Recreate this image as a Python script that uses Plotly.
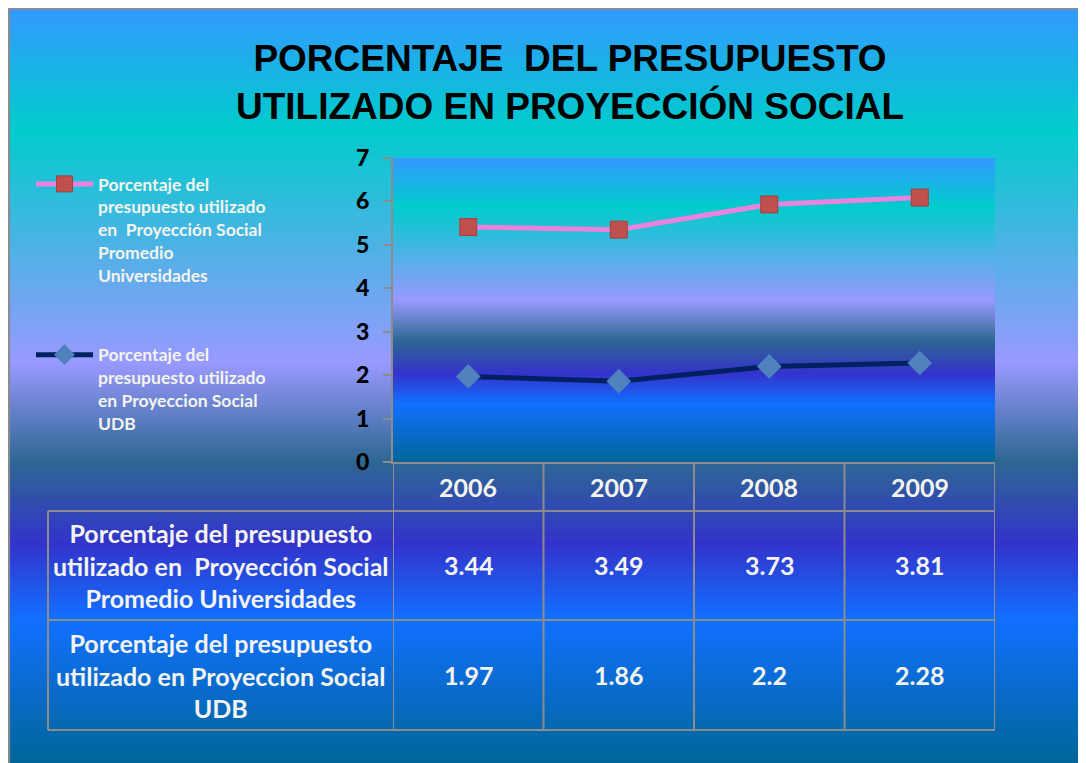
import base64
import struct
import zlib

import plotly.graph_objects as go

# data
years = ["2006", "2007", "2008", "2009"]
promedio = [3.44, 3.49, 3.73, 3.81]
udb = [1.97, 1.86, 2.2, 2.28]
promedio_legend = ["Porcentaje del", "presupuesto utilizado", "en  Proyección Social", "Promedio", "Universidades"]
udb_legend = ["Porcentaje del", "presupuesto utilizado", "en Proyeccion Social", "UDB"]
promedio_table = ["Porcentaje del presupuesto", "utilizado en  Proyección Social", "Promedio Universidades"]
udb_table = ["Porcentaje del presupuesto", "utilizado en Proyeccion Social", "UDB"]
title_text = "PORCENTAJE  DEL PRESUPUESTO<br>UTILIZADO EN PROYECCIÓN SOCIAL"

W, H = 1086, 763
OFF = 8  # page body margin, positions below are given in window pixels

# Excel "Ocean" preset gradient
OCEAN = [(0.0, "#3399FF"), (0.16, "#00CCCC"), (0.47, "#9999FF"), (0.60, "#2E6792"),
         (0.71, "#3333CC"), (0.81, "#1170FF"), (1.0, "#006699")]


def hex_rgb(h):
    h = h.lstrip("#")
    return [int(h[i:i + 2], 16) for i in (0, 2, 4)]


def gradient_png(stops, height, width=4):
    rows = b""
    for r in range(height):
        t = r / (height - 1)
        for i in range(len(stops) - 1):
            if stops[i][0] <= t <= stops[i + 1][0]:
                a, b = stops[i], stops[i + 1]
                break
        f = (t - a[0]) / (b[0] - a[0]) if b[0] > a[0] else 0
        ca, cb = hex_rgb(a[1]), hex_rgb(b[1])
        pix = bytes(int(round(ca[k] + (cb[k] - ca[k]) * f)) for k in range(3))
        rows += b"\x00" + pix * width

    def chunk(tag, data):
        c = tag + data
        return struct.pack(">I", len(data)) + c + struct.pack(">I", zlib.crc32(c) & 0xffffffff)

    png = b"\x89PNG\r\n\x1a\n"
    png += chunk(b"IHDR", struct.pack(">IIBBBBB", width, height, 8, 2, 0, 0, 0))
    png += chunk(b"IDAT", zlib.compress(rows))
    png += chunk(b"IEND", b"")
    return "data:image/png;base64," + base64.b64encode(png).decode()


def px(x):
    return (x - OFF) / W


def py(y):
    return 1 - (y - OFF) / H


plot_l, plot_r, plot_t, plot_b = 393, 995, 158, 462
tab_l, tab_head, tab_mid, tab_bot = 48, 511, 620, 730
grid_col = "#8C8C8C"
text_col = "#F4F4EC"

fig = go.Figure()

# UDB first so it is the bottom of the stack
fig.add_trace(go.Scatter(
    x=years, y=udb, name="<br>".join(udb_legend),
    stackgroup="one", fill="none", mode="lines+markers",
    line=dict(color="#002060", width=5),
    marker=dict(symbol="diamond", size=19, color="#4F81BD"),
    legendgroup="b", legendrank=2,
))
fig.add_trace(go.Scatter(
    x=years, y=promedio, name="<br>".join(promedio_legend),
    stackgroup="one", fill="none", mode="lines+markers",
    line=dict(color="#E983DF", width=5),
    marker=dict(symbol="square", size=17, color="#C0504D", line=dict(color="#A5403D", width=1)),
    legendgroup="a", legendrank=1,
))

images = [
    dict(source=gradient_png(OCEAN, H - 8), xref="paper", yref="paper",
         x=px(OFF), y=py(OFF), sizex=1, sizey=(H - 8) / H,
         xanchor="left", yanchor="top", sizing="stretch", layer="below"),
    dict(source=gradient_png(OCEAN, plot_b - plot_t), xref="paper", yref="paper",
         x=px(plot_l), y=py(plot_t), sizex=(plot_r - plot_l) / W, sizey=(plot_b - plot_t) / H,
         xanchor="left", yanchor="top", sizing="stretch", layer="below"),
]

shapes = [
    # outer frame
    dict(type="line", xref="paper", yref="paper", x0=0.001, x1=0.001, y0=0, y1=py(OFF),
         line=dict(color="#8C8C8C", width=2)),
    dict(type="line", xref="paper", yref="paper", x0=0, x1=1, y0=0.999, y1=0.999,
         line=dict(color="#8C8C8C", width=2)),
]
# data table grid
for yy in (tab_head, tab_mid, tab_bot):
    shapes.append(dict(type="line", xref="paper", yref="paper", x0=px(tab_l), x1=px(plot_r),
                       y0=py(yy), y1=py(yy), line=dict(color=grid_col, width=2)))
shapes.append(dict(type="line", xref="paper", yref="paper", x0=px(tab_l), x1=px(tab_l),
                   y0=py(tab_head), y1=py(tab_bot), line=dict(color=grid_col, width=2)))
for i in range(len(years) + 1):
    shapes.append(dict(type="line", xref="x", yref="paper", x0=i - 0.5, x1=i - 0.5,
                       y0=py(plot_b), y1=py(tab_bot), line=dict(color=grid_col, width=2)))

cell_font = dict(family="Lato", size=25, color=text_col, weight="bold")
annotations = []
for i, yr in enumerate(years):
    annotations.append(dict(x=i, xref="x", y=py(487), yref="paper", text=yr,
                            showarrow=False, font=cell_font, xanchor="center", yanchor="middle"))
    annotations.append(dict(x=i, xref="x", y=py(565), yref="paper", text=f"{promedio[i]:g}",
                            showarrow=False, font=cell_font, xanchor="center", yanchor="middle"))
    annotations.append(dict(x=i, xref="x", y=py(675), yref="paper", text=f"{udb[i]:g}",
                            showarrow=False, font=cell_font, xanchor="center", yanchor="middle"))
for lines, yc in ((promedio_table, 565), (udb_table, 675)):
    annotations.append(dict(x=px((tab_l + plot_l) / 2), xref="paper", y=py(yc), yref="paper",
                            text="<br>".join(lines), showarrow=False, font=cell_font,
                            xanchor="center", yanchor="middle", align="center"))

fig.update_layout(
    width=W, height=H,
    margin=dict(l=0, r=0, t=0, b=0, pad=0, autoexpand=False),
    paper_bgcolor="white",
    plot_bgcolor="rgba(0,0,0,0)",
    title=dict(text=title_text, x=px(570), xanchor="center", y=py(71), yanchor="middle",
               font=dict(family="Liberation Sans", size=37, color="black", weight="bold")),
    xaxis=dict(domain=[px(plot_l), px(plot_r)], type="category", range=[-0.5, 3.5],
               showticklabels=False, ticks="", showgrid=False, zeroline=False,
               showline=True, linecolor=grid_col, linewidth=2, automargin=False),
    yaxis=dict(domain=[py(plot_b), py(plot_t)], range=[0, 7], dtick=1,
               ticks="outside", ticklen=8, tickcolor=grid_col, tickwidth=2,
               ticklabelstandoff=9,
               showline=True, linecolor=grid_col, linewidth=2,
               showgrid=False, zeroline=False, automargin=False,
               tickfont=dict(family="Lato", size=23, color="black", weight=900)),
    legend=dict(x=px(31), y=py(166), xanchor="left", yanchor="top", itemwidth=57,
                bgcolor="rgba(0,0,0,0)", traceorder="grouped", tracegroupgap=54,
                valign="top", font=dict(family="Lato", size=17.5, color=text_col, weight="bold")),
    images=images,
    shapes=shapes,
    annotations=annotations,
    showlegend=True,
)

fig.write_html("out.html")
